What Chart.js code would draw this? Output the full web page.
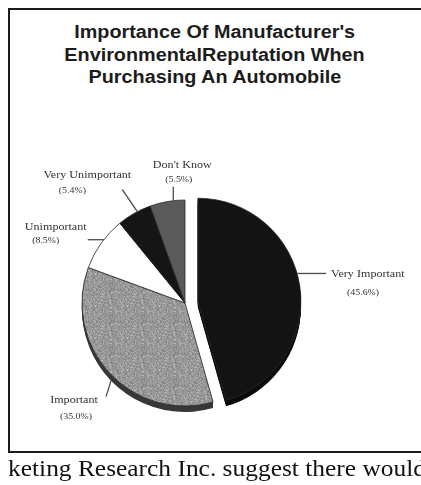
<!DOCTYPE html>
<html>
<head>
<meta charset="utf-8">
<script src="https://cdn.jsdelivr.net/npm/chart.js@4/dist/chart.umd.min.js"></script>
<style>
  html, body { margin: 0; padding: 0; background: #fff; overflow: hidden; }
  #page { width: 421px; height: 485px; position: relative; overflow: hidden; }
  .rule { position: absolute; background: #1c1c1c; }
  #ruleTop { left: 8px; top: 8px; width: 413px; height: 2px; }
  #ruleLeft { left: 8px; top: 8px; width: 2px; height: 445px; }
  #ruleBottom { left: 8px; top: 451px; width: 413px; height: 2px; }
  #title { position: absolute; left: 9px; width: 411px; top: 21px; text-align: center;
           font: bold 18px "Liberation Sans", Arial, sans-serif; line-height: 22.7px; color: #1c1c1c; }
  #title div span { display: inline-block; transform: scaleX(1.1); }
  #chart { position: absolute; left: 0; top: 0; }
  #captionBox { position: absolute; left: 0; top: 455px; width: 421px; height: 30px; overflow: hidden; }
  #caption { position: absolute; left: 8px; top: 3px; white-space: nowrap;
             font: 22.5px "Liberation Serif", "Times New Roman", serif; line-height: 1;
             transform-origin: 0 0; transform: scaleX(1.13); color: #111; }
</style>
</head>
<body>
<div id="page">
  <div class="rule" id="ruleTop"></div>
  <div class="rule" id="ruleLeft"></div>
  <div class="rule" id="ruleBottom"></div>
  <div id="title"></div>
  <canvas id="chart" width="421" height="485"></canvas>
  <div id="captionBox"><div id="caption">keting Research Inc. suggest there would</div></div>
</div>
<script>
// ---- data ----
const titleLines = ["Importance Of Manufacturer's", 'EnvironmentalReputation When', 'Purchasing An Automobile'];
const categories = ['Very Important', 'Important', 'Unimportant', 'Very Unimportant', "Don't Know"];
const shares = [45.6, 35.0, 8.5, 5.4, 5.5];

// ---- slice styling ----
const sliceSide = ['#0a0a0a', '#383838', '#5a5a5a', '#0a0a0a', '#2c2c2c'];
const sliceExplode = [13, 0, 0, 0, 0];
const rimDepth = 6;
const textStretch = 1.1;

// grainy grey fill: a small tile with a fixed hashed speckle
function speckleFill() {
  const size = 32;
  const tile = document.createElement('canvas');
  tile.width = tile.height = size;
  const tctx = tile.getContext('2d');
  const img = tctx.createImageData(size, size);
  for (let yy = 0; yy < size; yy++) {
    for (let xx = 0; xx < size; xx++) {
      let h = Math.imul(xx * 374761393 + yy * 668265263, 1274126177) >>> 0;
      h = (h ^ (h >>> 13)) >>> 0;
      const v = h % 100;
      const g = v < 38 ? 136 : (v < 90 ? 158 : 186);
      const k = (yy * size + xx) * 4;
      img.data[k] = img.data[k + 1] = img.data[k + 2] = g;
      img.data[k + 3] = 255;
    }
  }
  tctx.putImageData(img, 0, 0);
  return tctx.createPattern(tile, 'repeat');
}
const sliceFill = ['#131313', speckleFill(), '#ffffff', '#151515', '#5a5a5a'];

// callout layout: t = where along the slice's arc the leader starts (0..1),
// rim = start on the lower rim, lead = leader vector,
// name / pct = text offsets from the leader's outer end
const callouts = [
  { t: 0.453, rim: 0, lead: [29, 0],    name: [5, 1, 'left'],        pct: [37, 19, 'center'] },
  { t: 0.49,  rim: 1, lead: [-5, 16],   name: [-32, 3.4, 'center'],  pct: [-30, 20, 'center'] },
  { t: 0.58,  rim: 0, lead: [-16, 0],   name: [-32, -12.6, 'center'], pct: [-42, 1.4, 'center'] },
  { t: 0.6,   rim: 0, lead: [-15, -22], name: [-35, -15, 'center'],  pct: [-50, 1, 'center'] },
  { t: 0.67,  rim: 0, lead: [0, -14],   name: [9, -22, 'center'],    pct: [5.5, -7, 'center'] }
];

document.getElementById('title').innerHTML =
  titleLines.map(l => '<div><span>' + l.replace(/'/g, '&#39;') + '</span></div>').join('');

// pull exploded slices outward along their middle angle
const explodePlugin = {
  id: 'explode',
  afterDatasetUpdate(chart, args) {
    args.meta.data.forEach((arc, i) => {
      const d = sliceExplode[i] || 0;
      if (!d) return;
      const mid = (arc.startAngle + arc.endAngle) / 2;
      arc.x += Math.cos(mid) * d;
      arc.y += Math.sin(mid) * d;
    });
  }
};

// the pie's thickness, drawn under each slice
const rimPlugin = {
  id: 'rim',
  beforeDatasetsDraw(chart) {
    const ctx = chart.ctx;
    const meta = chart.getDatasetMeta(0);
    ctx.save();
    meta.data.forEach((arc, i) => {
      const { x, y, startAngle, endAngle, outerRadius } = arc;
      ctx.fillStyle = sliceSide[i];
      for (let d = rimDepth; d >= 1; d--) {
        ctx.beginPath();
        ctx.moveTo(x, y + d);
        ctx.arc(x, y + d, outerRadius, startAngle, endAngle);
        ctx.closePath();
        ctx.fill();
      }
    });
    ctx.restore();
  }
};

// leader lines with category name and percentage
const calloutPlugin = {
  id: 'callouts',
  afterDatasetsDraw(chart) {
    const ctx = chart.ctx;
    const meta = chart.getDatasetMeta(0);
    const put = (text, x, y, align, font) => {
      ctx.save();
      ctx.translate(x, y);
      ctx.scale(textStretch, 1);
      ctx.font = font;
      ctx.textAlign = align;
      ctx.textBaseline = 'middle';
      ctx.fillText(text, 0, 0);
      ctx.restore();
    };
    meta.data.forEach((arc, i) => {
      const c = callouts[i];
      const { x, y, startAngle, endAngle, outerRadius } = arc;
      const a = startAngle + c.t * (endAngle - startAngle);
      const x0 = x + outerRadius * Math.cos(a);
      const y0 = y + outerRadius * Math.sin(a) + c.rim * rimDepth;
      const x1 = x0 + c.lead[0], y1 = y0 + c.lead[1];
      ctx.save();
      ctx.strokeStyle = '#4a4a4a';
      ctx.lineWidth = 1.3;
      ctx.beginPath();
      ctx.moveTo(x0, y0);
      ctx.lineTo(x1, y1);
      ctx.stroke();
      ctx.restore();
      ctx.fillStyle = '#333333';
      put(categories[i], x1 + c.name[0], y1 + c.name[1], c.name[2], '11px "Liberation Serif", "Times New Roman", serif');
      put('(' + shares[i].toFixed(1) + '%)', x1 + c.pct[0], y1 + c.pct[1], c.pct[2], '9px "Liberation Serif", "Times New Roman", serif');
    });
  }
};

new Chart(document.getElementById('chart'), {
  type: 'pie',
  data: {
    labels: categories,
    datasets: [{
      data: shares,
      backgroundColor: sliceFill,
      borderColor: '#2a2a2a',
      borderWidth: 0.8,
      clip: false
    }]
  },
  options: {
    responsive: false,
    animation: false,
    radius: 103,
    layout: { padding: { left: 0, right: 51, top: 150, bottom: 29 } },
    plugins: {
      legend: { display: false },
      tooltip: { enabled: false },
      title: { display: false }
    },
    events: []
  },
  plugins: [explodePlugin, rimPlugin, calloutPlugin]
});
</script>
</body>
</html>
